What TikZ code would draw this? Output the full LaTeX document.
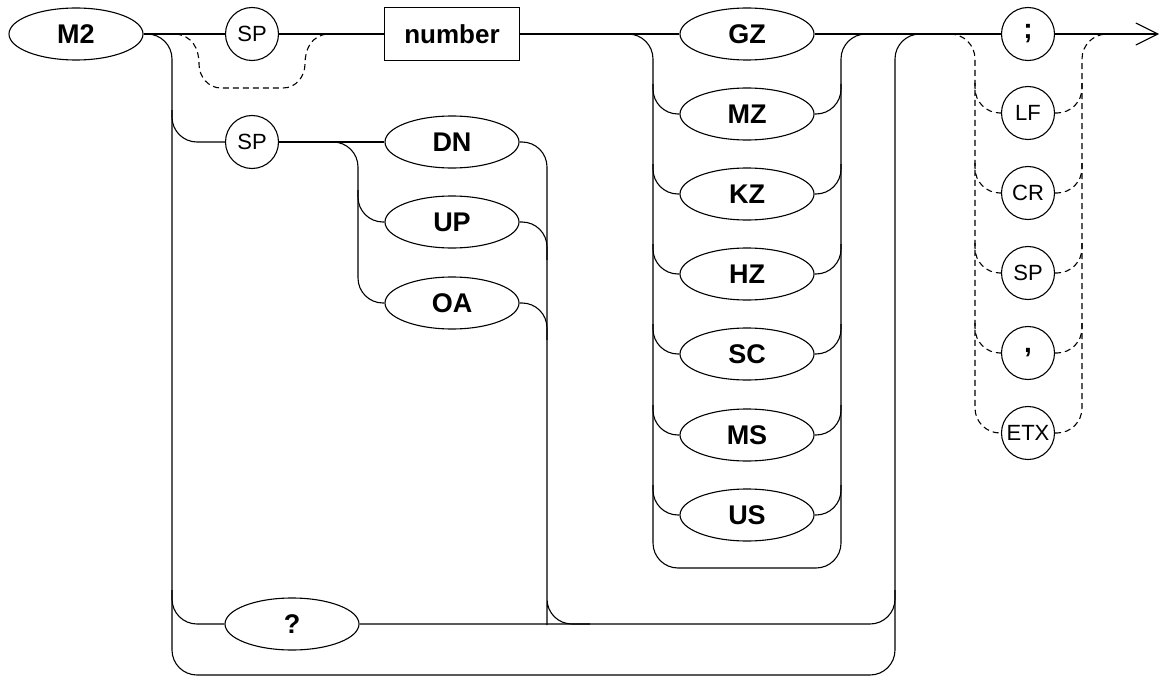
\documentclass[tikz,border=0pt]{standalone}
\usepackage{fontspec}
\setmainfont{Liberation Sans}
\usetikzlibrary{shapes.geometric,arrows.meta}
\begin{document}
\begin{tikzpicture}[x=1pt,y=-1pt,line width=1.1pt,
  keyword/.style={ellipse,draw,minimum width=134pt,minimum height=52pt,inner sep=0pt,
    font=\fontsize{27}{27}\selectfont\bfseries},
  token/.style={circle,draw,minimum size=53pt,inner sep=0pt,
    font=\fontsize{22}{22}\selectfont},
  punct/.style={token,font=\fontsize{28}{28}\selectfont\bfseries},
  valuebox/.style={rectangle,draw,minimum width=135pt,minimum height=53pt,inner sep=0pt,
    font=\fontsize{26}{26}\selectfont\bfseries},
  rail/.style={rounded corners=25pt},
  optrail/.style={rounded corners=25pt,dash pattern=on 6pt off 4pt},
]
\useasboundingbox (0,0) rectangle (1160,677);

% ---- syntax elements ----
\node[keyword] (m2) at (76,34) {M2};
\node[token] (sp1) at (252,34) {SP};
\node[valuebox] (num) at (452,34) {number};
\node[token] (sp2) at (252,142) {SP};
\node[keyword] (dn) at (452,142) {DN};
\node[keyword] (up) at (452,222) {UP};
\node[keyword] (oa) at (452,303) {OA};
\node[keyword] (q) at (292,624) {?};

\foreach \nm/\txt/\yy in {gz/GZ/34,mz/MZ/114,kz/KZ/194,hz/HZ/274,sc/SC/354,ms/MS/435,us/US/515}
  \node[keyword] (\nm) at (747,\yy) {\txt};

\node[punct] (semi) at (1028,34) {;};
\node[token] (lf) at (1028,113) {LF};
\node[token] (cr) at (1028,193) {CR};
\node[token] (spt) at (1028,273) {SP};
\node[punct] (comma) at (1028,353) {,};
\node[token] (etx) at (1028,433) {ETX};

% ---- junction points ----
\coordinate (bypassL) at (176,34);
\coordinate (bypassR) at (327,34);
\coordinate (trunkBot) at (172,675);
\coordinate (retBot) at (895,675);
\coordinate (mainJoin) at (921,34);
\coordinate (sp2Fork) at (172,110);
\coordinate (qFork) at (172,590);
\coordinate (qMerge) at (895,590);
\coordinate (dnFork) at (330,142);
\coordinate (oaFork) at (358,250);
\coordinate (upFork) at (358,190);
\coordinate (dnMerge) at (547,600);
\coordinate (qLine) at (590,624);
\coordinate (upMerge) at (547,260);
\coordinate (oaMerge) at (547,340);
\coordinate (uFork) at (625,34);
\coordinate (uJoin) at (868,34);
\coordinate (tFork) at (950,34);
\coordinate (tJoin) at (1107,34);
\coordinate (arrowEnd) at (1159,34);

% ---- main line ----
\draw (m2) -- (sp1);
\draw (sp1) -- (num);
\draw (num) -- (gz);
\draw (gz) -- (semi);
\draw[-{Straight Barb[length=22pt,width=22pt]}] (semi) -- (arrowEnd);

% optional SP bypass
\draw[dash pattern=on 6pt off 4pt] (bypassL) .. controls (192,36) and (199,48) .. (199,64)
  to[out=-90,in=180] (221,88) -- (283,88) to[out=0,in=-90] (305,64)
  .. controls (305,48) and (312,36) .. (bypassR);

% outer trunk and return
\draw[rail] (m2.east) -| (trunkBot) -- (retBot) |- (mainJoin);

% query branch
\draw[rail] (qFork) |- (q);
\draw[rail] (q) -| (qMerge);

% SP with step direction
\draw[rail] (sp2Fork) |- (sp2);
\draw (sp2) -- (dn);
\draw[rail] (dnFork) -| (oaFork) |- (oa);
\draw[rail] (upFork) |- (up);
\draw[rail] (dn) -| (dnMerge) |- (qLine);
\draw[rail] (up) -| (upMerge);
\draw[rail] (oa) -| (oaMerge);

% units group
\draw[rail] (uFork) -- (653,34) -- (653,568) -- (841,568) -- (841,34) -- (uJoin);
\foreach \nm/\yy in {mz/114,kz/194,hz/274,sc/354,ms/435,us/515}{
  \draw[rail] (653,\yy-30) |- (\nm);
  \draw[rail] (\nm) -| (841,\yy-30);
}

% terminators
\draw[optrail] (tFork) -- (975,34) -- (975,433) -- (etx);
\draw[optrail] (etx) -- (1082,433) -- (1082,34) -- (tJoin);
\foreach \nm/\yy in {lf/113,cr/193,spt/273,comma/353}{
  \draw[optrail] (975,\yy-30) |- (\nm);
  \draw[optrail] (\nm) -| (1082,\yy-30);
}
\end{tikzpicture}
\end{document}
